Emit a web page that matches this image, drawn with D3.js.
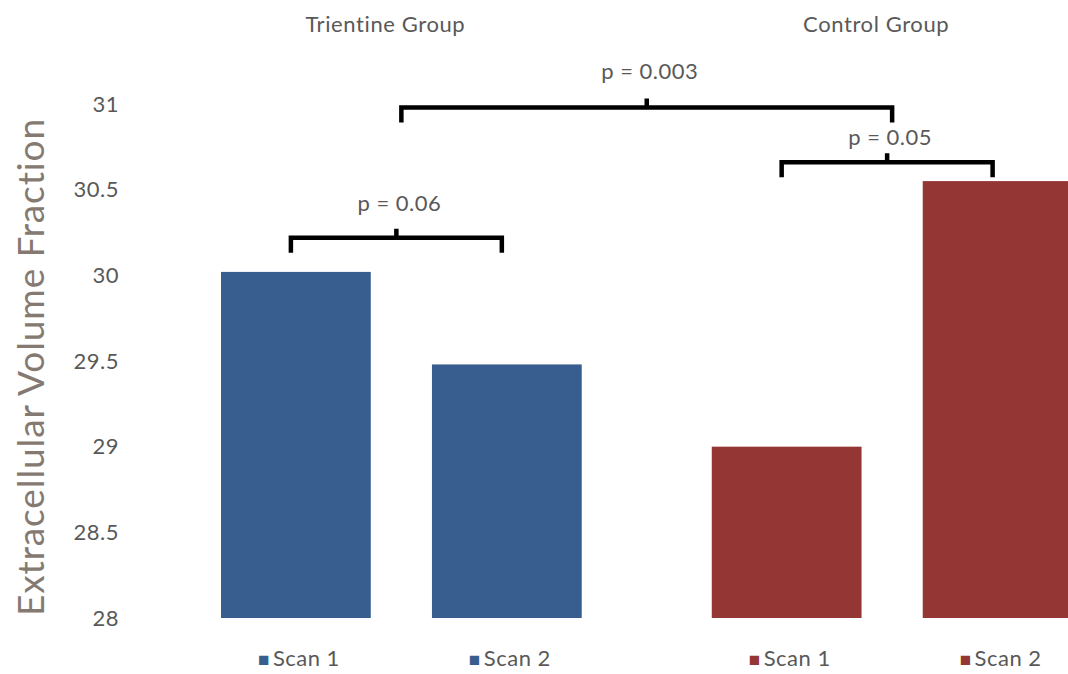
<!DOCTYPE html>
<html>
<head>
<meta charset="utf-8">
<script src="https://cdn.jsdelivr.net/npm/d3@7"></script>
<style>
  html, body { margin: 0; padding: 0; background: #fff; }
  svg { display: block; font-family: Lato, "Open Sans", sans-serif; }
</style>
</head>
<body>
<svg id="chart" width="1068" height="674"></svg>
<script>
// Extracellular volume fraction, scan 1 vs scan 2, per group
const groups = ["Trientine Group", "Control Group"];
const scans = ["Scan 1", "Scan 2"];
const trientineValues = [30.02, 29.48];
const controlValues = [29.0, 30.55];
const groupColors = ["#375E8F", "#943634"];
const yTicks = [28, 28.5, 29, 29.5, 30, 30.5, 31];

// Significance brackets: [from, to] as [groupIndex, scanIndex|null], levels in data units
const bracketLabels = ["p = 0.06", "p = 0.003", "p = 0.05"];
const bracketFrom = [[0, 0], [0, null], [1, 0]];
const bracketTo = [[0, 1], [1, null], [1, 1]];
const bracketLevels = [30.22, 30.98, 30.66];
const bracketLabelLevels = [30.42, 31.19, 30.81];

const seriesByGroup = [trientineValues, controlValues];
const bars = [];
groups.forEach((g, gi) => scans.forEach((s, si) => bars.push({ group: g, gi, scan: s, si, value: seriesByGroup[gi][si] })));

const svg = d3.select("#chart");

const y = d3.scaleLinear().domain([28, 31]).range([618, 104]);
const x0 = d3.scaleBand().domain(groups).range([221, 1072.5]).paddingInner(0.265).paddingOuter(0);
const x1 = d3.scaleBand().domain(scans).range([0, x0.bandwidth()]).paddingInner(0.29).paddingOuter(0);

const textColor = "#595959";
const fs = "22px";

// bars
svg.append("g").selectAll("rect").data(bars).join("rect")
  .attr("x", d => x0(d.group) + x1(d.scan))
  .attr("y", d => y(d.value))
  .attr("width", x1.bandwidth())
  .attr("height", d => y(28) - y(d.value))
  .attr("fill", d => groupColors[d.gi]);

// y axis: labels only
const yAxis = svg.append("g").attr("transform", "translate(127,0)")
  .call(d3.axisLeft(y).tickValues(yTicks).tickSize(0).tickPadding(8).tickFormat(d => String(d)));
yAxis.select(".domain").remove();
yAxis.selectAll("text").attr("fill", textColor)
  .style("font-size", fs).style("font-family", "Lato, sans-serif").style("letter-spacing", "0.5px");

// y axis title
svg.append("text")
  .attr("transform", `translate(44,${(y(28) + y(31)) / 2 + 6}) rotate(-90)`)
  .attr("text-anchor", "middle")
  .attr("fill", "#857a72")
  .style("font-size", "37px")
  .style("letter-spacing", "0.9px")
  .text("Extracellular Volume Fraction");

// group titles
svg.append("g").selectAll("text").data(groups).join("text")
  .attr("x", (g, i) => x0(g) + x0.bandwidth() / 2 - 16)
  .attr("y", 32)
  .attr("text-anchor", "middle")
  .attr("fill", textColor)
  .style("font-size", fs)
  .style("letter-spacing", "0.6px")
  .text(d => d);

// category labels with coloured square markers
const cat = svg.append("g").selectAll("g").data(bars).join("g")
  .attr("transform", d => `translate(${x0(d.group) + x1(d.scan) + x1.bandwidth() / 2 + 3},666)`);
cat.append("text")
  .attr("text-anchor", "middle")
  .style("font-size", fs)
  .style("letter-spacing", "0.5px")
  .each(function (d) {
    const t = d3.select(this);
    t.append("tspan").attr("fill", groupColors[d.gi]).style("font-size", "19px").text("\u25A0");
    t.append("tspan").attr("fill", textColor).attr("dx", 3).text(d.scan);
  });

// significance brackets
const posX = ([gi, si]) => si === null
  ? x0(groups[gi]) + x0.bandwidth() / 2
  : x0(groups[gi]) + x1(scans[si]) + x1.bandwidth() / 2 - 5;
const legLen = 15, tickLen = 9;
const br = svg.append("g");
bracketLabels.forEach((label, i) => {
  const xa = posX(bracketFrom[i]), xb = posX(bracketTo[i]);
  const yl = y(bracketLevels[i]);
  const xm = (xa + xb) / 2;
  br.append("path")
    .attr("d", `M${xa},${yl + legLen}V${yl}H${xb}V${yl + legLen}M${xm},${yl}V${yl - tickLen}`)
    .attr("fill", "none")
    .attr("stroke", "#000")
    .attr("stroke-width", 4.5);
  br.append("text")
    .attr("x", xm + 3)
    .attr("y", y(bracketLabelLevels[i]) + 8)
    .attr("text-anchor", "middle")
    .attr("fill", textColor)
    .style("font-size", fs)
    .style("letter-spacing", "0.5px")
    .text(label);
});
</script>
</body>
</html>
